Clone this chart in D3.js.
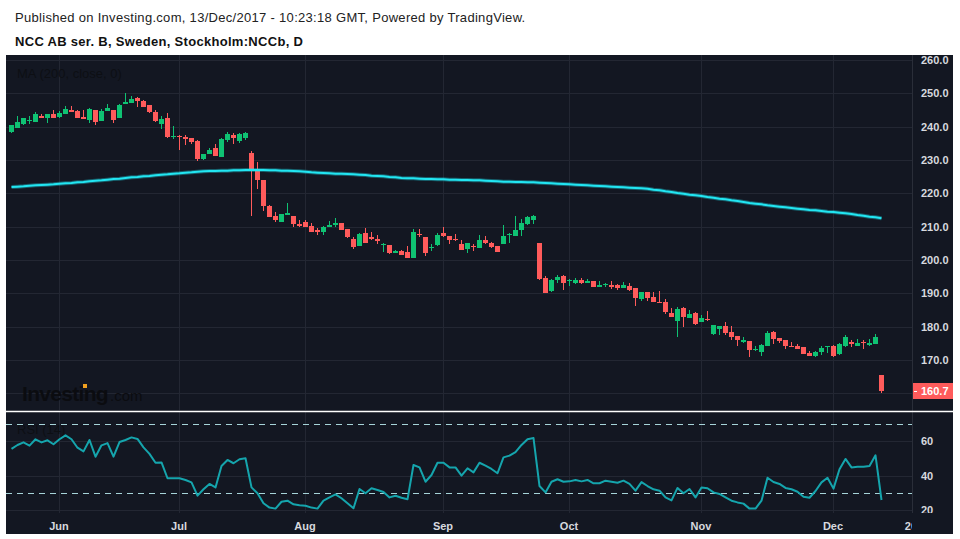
<!DOCTYPE html>
<html><head><meta charset="utf-8">
<script src="https://cdn.jsdelivr.net/npm/d3@7"></script>
<style>body{margin:0;background:#fff}svg{display:block;font-family:"Liberation Sans",Arial,sans-serif}</style>
</head><body><svg id="c" width="960" height="539"></svg>
<script>
// ---------- DATA ----------
const dates = [
"2017-05-19","2017-05-22","2017-05-23","2017-05-24","2017-05-26","2017-05-29","2017-05-30","2017-05-31",
"2017-06-01","2017-06-02","2017-06-05","2017-06-07","2017-06-08","2017-06-09","2017-06-12","2017-06-13","2017-06-14","2017-06-15","2017-06-16","2017-06-19","2017-06-20","2017-06-21","2017-06-22","2017-06-26","2017-06-27","2017-06-28","2017-06-29","2017-06-30",
"2017-07-03","2017-07-04","2017-07-05","2017-07-06","2017-07-07","2017-07-10","2017-07-11","2017-07-12","2017-07-13","2017-07-14","2017-07-17","2017-07-18","2017-07-19","2017-07-20","2017-07-21","2017-07-24","2017-07-25","2017-07-26","2017-07-27","2017-07-28","2017-07-31",
"2017-08-01","2017-08-02","2017-08-03","2017-08-04","2017-08-07","2017-08-08","2017-08-09","2017-08-10","2017-08-11","2017-08-14","2017-08-15","2017-08-16","2017-08-17","2017-08-18","2017-08-21","2017-08-22","2017-08-23","2017-08-24","2017-08-25","2017-08-28","2017-08-29","2017-08-30","2017-08-31",
"2017-09-01","2017-09-04","2017-09-05","2017-09-06","2017-09-07","2017-09-08","2017-09-11","2017-09-12","2017-09-13","2017-09-14","2017-09-15","2017-09-18","2017-09-19","2017-09-20","2017-09-21","2017-09-22","2017-09-25","2017-09-26","2017-09-27","2017-09-28","2017-09-29",
"2017-10-02","2017-10-03","2017-10-04","2017-10-05","2017-10-06","2017-10-09","2017-10-10","2017-10-11","2017-10-12","2017-10-13","2017-10-16","2017-10-17","2017-10-18","2017-10-19","2017-10-20","2017-10-23","2017-10-24","2017-10-25","2017-10-26","2017-10-27","2017-10-30","2017-10-31",
"2017-11-01","2017-11-02","2017-11-03","2017-11-06","2017-11-07","2017-11-08","2017-11-09","2017-11-10","2017-11-13","2017-11-14","2017-11-15","2017-11-16","2017-11-17","2017-11-20","2017-11-21","2017-11-22","2017-11-23","2017-11-24","2017-11-27","2017-11-28","2017-11-29","2017-11-30",
"2017-12-01","2017-12-04","2017-12-05","2017-12-06","2017-12-07","2017-12-08","2017-12-11","2017-12-12","2017-12-13"];
const futureSlots = ["f1","f2","f3","f4","f5","f6","f7","f8"];

const open = [238.5,239.7,240.9,241.8,241.5,243.2,242.7,243.8,
243.0,243.9,245.0,244.7,242.9,242.0,245.0,241.8,244.7,245.0,242.7,246.8,247.1,248.6,247.7,246.5,244.4,240.8,242.6,236.9,
237.2,236.9,236.6,235.7,230.3,231.8,233.6,230.9,236.0,237.5,235.7,236.6,232.2,227.0,224.0,216.3,213.2,211.4,213.6,213.2,210.8,
211.4,210.2,209.0,208.4,209.9,210.5,211.1,209.3,206.3,204.2,208.1,206.9,206.3,204.5,204.5,202.1,202.7,202.4,200.6,207.8,206.9,203.6,204.5,
208.1,207.2,206.3,204.8,203.3,204.2,203.6,206.0,205.1,204.2,204.8,207.5,207.2,209.0,210.8,212.0,205.1,194.6,190.7,194.0,195.2,
193.7,193.1,194.0,193.1,193.7,191.9,192.5,192.5,192.5,191.6,192.2,191.6,188.3,190.4,188.9,187.4,187.4,184.1,181.7,185.6,182.6,184.1,
181.4,182.3,177.8,179.3,180.2,178.4,177.2,175.4,175.7,173.0,172.4,174.2,178.4,176.6,176.0,174.2,174.2,173.9,172.1,171.2,172.4,173.9,
174.2,171.8,174.2,175.4,174.2,175.4,174.5,174.8,165.5];
const high = [240.5,243.2,242.6,243.2,244.4,243.8,243.8,245.0,
244.7,246.2,246.2,245.0,245.0,245.6,245.0,245.3,246.8,245.0,246.8,250.1,249.2,248.9,248.0,246.5,245.0,243.2,244.1,240.2,
237.5,237.5,236.6,236.0,231.8,233.6,234.8,236.6,238.4,238.1,238.1,238.4,232.7,229.4,224.0,216.6,214.4,213.8,217.1,213.2,212.0,
212.0,211.1,209.6,210.2,211.7,212.6,211.1,209.3,206.9,208.1,209.6,208.4,207.5,205.1,204.5,203.0,203.0,204.2,209.3,209.3,206.9,204.8,208.1,
209.9,207.2,207.8,206.0,205.1,204.8,207.5,207.2,205.4,204.2,210.5,208.1,213.2,212.3,213.2,213.5,205.1,195.2,194.3,195.5,195.5,
194.3,194.6,194.6,194.3,193.7,193.7,193.1,193.7,192.8,193.4,193.1,191.6,190.4,190.4,190.4,190.7,188.3,185.6,185.9,185.9,185.0,184.4,
183.5,184.7,180.5,180.2,181.4,180.2,177.2,176.9,175.7,174.2,174.8,178.7,178.7,176.6,176.0,175.4,174.8,173.9,172.7,172.7,174.2,174.2,
174.5,175.1,177.5,176.0,176.3,176.0,176.3,177.8,165.5];
const low = [238.2,239.7,240.6,240.8,241.5,242.7,241.2,242.7,
242.7,243.9,244.5,242.7,242.4,241.2,240.6,241.8,244.7,241.2,242.7,246.8,247.1,245.9,245.9,244.1,241.4,239.3,236.6,236.3,
233.0,234.5,234.8,229.7,230.0,231.8,231.2,230.9,235.4,234.8,235.1,236.0,213.2,221.3,214.7,213.0,211.4,211.4,213.6,209.9,209.9,
209.9,208.4,207.5,207.5,209.9,209.9,209.0,206.6,203.3,204.2,205.1,206.0,204.8,202.4,201.8,202.1,201.5,200.6,200.6,206.9,201.2,202.7,204.2,
206.9,204.8,205.7,203.0,202.1,202.7,203.6,204.8,203.6,202.4,204.8,205.1,207.2,207.2,210.5,210.8,194.0,190.1,190.4,193.1,191.0,
192.2,192.8,192.8,193.1,191.9,191.9,191.9,191.3,191.0,191.6,190.7,186.2,187.7,187.7,187.4,187.1,183.8,182.9,176.9,179.9,182.6,180.5,
181.4,181.7,177.5,177.5,177.5,176.0,174.2,175.1,170.9,172.7,171.2,174.2,174.8,175.1,173.3,173.9,173.3,171.8,171.2,170.9,171.5,172.1,
170.9,171.5,173.9,173.9,174.2,173.3,174.2,174.8,160.1];
const close = [240.5,241.4,242.6,242.0,243.8,242.7,243.8,242.7,
244.1,245.3,244.5,242.7,242.4,245.3,241.4,244.7,245.6,242.0,246.6,247.4,248.3,247.7,245.9,244.4,241.7,242.3,236.9,237.2,
236.9,236.3,235.4,230.3,231.8,233.0,231.2,236.3,237.8,236.6,237.8,238.1,227.0,224.0,216.3,213.0,212.0,213.8,214.1,210.9,210.2,
209.9,208.4,208.4,209.9,210.5,211.1,209.0,206.9,203.9,207.8,205.1,206.3,205.7,204.8,202.1,202.7,201.5,200.6,208.4,207.5,202.1,203.9,207.5,
207.2,206.0,206.0,203.0,205.1,203.9,206.0,205.1,203.9,202.4,207.2,207.8,209.0,211.1,212.9,213.2,194.3,190.1,194.0,194.9,193.1,
194.0,194.0,193.1,193.7,191.9,192.5,192.8,191.9,191.6,192.5,191.0,188.6,190.4,188.6,187.4,187.1,184.4,182.9,185.3,182.9,183.8,180.8,
182.6,182.0,180.5,180.2,178.1,176.9,176.0,176.0,173.0,173.3,174.5,178.1,176.3,175.7,174.2,173.9,173.3,171.8,171.2,172.4,173.6,174.2,
171.2,174.8,176.9,174.8,175.1,175.1,175.1,176.9,160.7];
const ma200 = [221.9,222.0,222.1,222.3,222.4,222.5,222.6,222.7,222.9,223.0,
223.1,223.3,223.4,223.6,223.8,223.9,224.1,224.3,224.4,224.6,224.8,
224.9,225.1,225.2,225.4,225.6,225.7,225.9,226.0,226.2,226.3,226.5,
226.6,226.7,226.7,226.8,226.8,226.9,226.9,227.0,227.0,227.0,
227.0,226.9,226.9,226.8,226.8,226.7,226.6,226.5,226.3,
226.2,226.1,226.0,225.9,225.9,225.8,225.7,225.6,225.5,225.3,225.2,
225.1,224.9,224.8,224.6,224.5,224.5,224.4,224.3,224.3,224.2,
224.2,224.1,224.1,224.0,224.0,223.9,223.9,223.8,223.7,223.6,223.5,
223.5,223.4,223.4,223.3,223.3,223.2,
223.1,223.0,222.9,222.8,222.7,222.6,222.5,222.4,222.3,222.2,
222.1,222.0,221.9,221.8,221.7,221.6,221.5,221.4,
221.1,220.9,220.6,220.4,220.1,219.9,219.6,219.4,219.2,
218.9,218.7,218.4,218.2,217.9,217.7,217.4,217.1,
216.9,216.7,216.4,216.2,216.0,215.8,215.6,215.4,
215.2,215.0,214.9,214.7,214.5,214.4,214.2,214.0,213.8,
213.5,213.3,213.0,212.8,212.5];
const rsi14 = [55.4,57.7,59.2,57.3,61,59.2,60.4,58.1,
61,63.3,61,56.1,54,60.6,50.9,57.5,58.8,50.9,
59.4,60.6,62.1,61.2,56.3,52.5,47.4,47.6,38.4,38.4,
38.4,37.4,36,28.3,32,35.1,33.1,45.5,49,47.1,
49.4,50,33.1,29.7,23.9,21.4,20.8,24.8,25.4,23.3,
22.7,22.5,21.4,20.8,25.4,27.3,29.1,26.8,23.9,21,
32.2,29.7,32.6,31.6,30.4,27.3,28.3,27.1,26.2,46.1,
44.7,36.4,40.3,47.4,47.4,44.7,44.7,39.9,44.2,41.8,
47.4,45.7,43.8,41.3,50.5,51.5,53.6,57.7,61,61.7,
33.9,30.2,36.4,37.8,36.4,36.6,37.4,36.6,37.4,35.5,
35.5,37,36.4,35.8,37,35.1,31.2,36.2,33.9,32,
31.2,27.3,25.6,32.8,29.7,32.2,27.3,33.1,32.6,30.2,
29.3,27.3,25.4,24.4,23.7,20.8,20.8,25.4,38.7,36.2,
35.1,32.8,32,30.6,27.7,27.1,31,36,38.7,32.4,
43.6,49.6,44.7,45.1,45.1,45.5,51.7,25.8];

const priceTicks = [170,180,190,200,210,220,230,240,250,260];
const priceGrid = [160,170,180,190,200,210,220,230,240,250,260];
const rsiTicks = [20,40,60];
const rsiBands = [30,70];
const monthTickDates = ["2017-06-01","2017-07-03","2017-08-01","2017-09-01","2017-10-02","2017-11-01","2017-12-01","f6"];
const monthLabels = ["Jun","Jul","Aug","Sep","Oct","Nov","Dec","2018"];
const lastPrice = 160.7;

const titleLine1 = "Published on Investing.com, 13/Dec/2017 - 10:23:18 GMT, Powered by TradingView.";
const titleLine2 = "NCC AB ser. B, Sweden, Stockholm:NCCb, D";

// ---------- LAYOUT ----------
const P = {left:6, right:953, top:55, bottom:534, plotRight:912, mainBottom:410, sep:411, rsiTop:412, rsiBottom:513};
const BG = "#131722", GRID = "#232733", UP = "#0fc273", DOWN = "#ff5b5b";

const svg = d3.select("#c");
const defs = svg.append("defs");
function clip(id, x0, y0, w, h){
  defs.append("clipPath").attr("id",id).append("rect").attr("x",x0).attr("y",y0).attr("width",w).attr("height",h);
}
clip("clipMain", P.left, P.top, P.plotRight-P.left, P.mainBottom-P.top);
clip("clipRsi", P.left, P.rsiTop, P.plotRight-P.left, P.rsiBottom-P.rsiTop);
clip("clipAxisR", P.plotRight, P.top+1, P.right-P.plotRight, P.mainBottom-P.top);
clip("clipAxisR2", P.plotRight, P.rsiTop, P.right-P.plotRight, P.rsiBottom-P.rsiTop);
clip("clipTime", P.left, P.rsiBottom, P.plotRight-P.left, P.bottom-P.rsiBottom);

// titles
svg.append("text").attr("x",15).attr("y",22).attr("font-size",13).attr("letter-spacing",0.3).attr("fill","#222").text(titleLine1);
svg.append("text").attr("x",15).attr("y",46).attr("font-size",13).attr("font-weight","bold").attr("fill","#111").attr("letter-spacing",0.3).text(titleLine2);

// panel
svg.append("rect").attr("x",P.left).attr("y",P.top).attr("width",P.right-P.left).attr("height",P.bottom-P.top).attr("fill",BG);

// scales
const x = d3.scaleBand().domain(dates.concat(futureSlots))
  .range([8, 8 + 6*(dates.length+futureSlots.length)]).paddingInner(1/6).paddingOuter(1/12);
const cx = d => Math.round(x(d) + x.bandwidth()/2);
const yP = d3.scaleLinear().domain([260,160]).range([60,393.33]);
const yR = d3.scaleLinear().domain([60,20]).range([441,510]);

// grid
const g = svg.append("g").attr("shape-rendering","crispEdges");
const vTicks = monthTickDates.filter(d => dates.includes(d));
g.selectAll(".vg1").data(vTicks).join("line")
  .attr("x1",d=>cx(d)+0.5).attr("x2",d=>cx(d)+0.5).attr("y1",P.top).attr("y2",P.mainBottom).attr("stroke",GRID);
g.selectAll(".vg2").data(vTicks).join("line")
  .attr("x1",d=>cx(d)+0.5).attr("x2",d=>cx(d)+0.5).attr("y1",P.rsiTop).attr("y2",P.rsiBottom).attr("stroke",GRID);
g.selectAll(".hg1").data(priceGrid).join("line")
  .attr("x1",P.left).attr("x2",P.plotRight).attr("y1",d=>Math.round(yP(d))+0.5).attr("y2",d=>Math.round(yP(d))+0.5).attr("stroke",GRID);
g.selectAll(".hg2").data(rsiTicks).join("line")
  .attr("x1",P.left).attr("x2",P.plotRight).attr("y1",d=>Math.round(yR(d))+0.5).attr("y2",d=>Math.round(yR(d))+0.5).attr("stroke",GRID);
g.append("line").attr("x1",P.plotRight+0.5).attr("x2",P.plotRight+0.5).attr("y1",P.top).attr("y2",P.rsiBottom).attr("stroke","#2a2e39");

// watermark
const wm = svg.append("g");
wm.append("text").attr("x",22).attr("y",401).attr("font-size",21).attr("font-weight","bold").attr("letter-spacing",-0.7).attr("fill","#0b0c10").text("Investing");
wm.append("text").attr("x",110).attr("y",401).attr("font-size",15).attr("fill","#0b0c10").text(".com");
wm.append("rect").attr("x",83).attr("y",384).attr("width",4).attr("height",4).attr("fill","#f0a020");

// legend labels
svg.append("text").attr("x",17).attr("y",78).attr("font-size",13).attr("fill","#0d0f14").text("MA (200, close, 0)");
svg.append("text").attr("x",17).attr("y",434).attr("font-size",13).attr("fill","#0d0f14").text("RSI (14)");

// candles
const bars = dates.map((d,i)=>({d, o:open[i], h:high[i], l:low[i], c:close[i]}));
const cg = svg.append("g").attr("clip-path","url(#clipMain)").attr("shape-rendering","crispEdges");
cg.selectAll(".wick").data(bars).join("line")
  .attr("x1",b=>cx(b.d)+0.5).attr("x2",b=>cx(b.d)+0.5)
  .attr("y1",b=>yP(b.h)).attr("y2",b=>yP(b.l))
  .attr("stroke",b=>b.c>=b.o?UP:DOWN);
cg.selectAll(".body").data(bars).join("rect")
  .attr("x",b=>cx(b.d)-2).attr("width",5)
  .attr("y",b=>yP(Math.max(b.o,b.c)))
  .attr("height",b=>Math.max(1, yP(Math.min(b.o,b.c))-yP(Math.max(b.o,b.c))))
  .attr("fill",b=>b.c>=b.o?UP:DOWN);

// MA line
const maLine = d3.line().x((v,i)=>cx(dates[i])+0.5).y(v=>yP(v));
const mg = svg.append("g").attr("clip-path","url(#clipMain)");
mg.append("path").attr("d",maLine(ma200)).attr("fill","none").attr("stroke","#1fe3f0").attr("stroke-opacity",0.35).attr("stroke-width",4);
mg.append("path").attr("d",maLine(ma200)).attr("fill","none").attr("stroke","#22e6f2").attr("stroke-width",2);

// separator
svg.append("line").attr("x1",P.left).attr("x2",P.right).attr("y1",P.sep+0.5).attr("y2",P.sep+0.5).attr("stroke","#ffffff").attr("stroke-width",1.5);

// RSI
const rg = svg.append("g").attr("clip-path","url(#clipRsi)");
rg.selectAll(".band").data(rsiBands).join("line")
  .attr("x1",P.left).attr("x2",P.plotRight).attr("y1",d=>Math.round(yR(d))+0.5).attr("y2",d=>Math.round(yR(d))+0.5)
  .attr("stroke","#a6d4d9").attr("stroke-dasharray","6,5").attr("shape-rendering","crispEdges");
const rLine = d3.line().x((v,i)=>cx(dates[i])+0.5).y(v=>yR(v));
rg.append("path").attr("d",rLine(rsi14)).attr("fill","none").attr("stroke","#15a5ad").attr("stroke-width",2).attr("stroke-linejoin","round");

// axes (outer group clips in page coordinates, inner group translated)
const axisStyle = sel => {
  sel.select(".domain").remove();
  sel.selectAll("text").attr("fill","#d7d9df").attr("font-size",11).attr("font-weight","bold").attr("font-family","'Liberation Sans',Arial,sans-serif");
};
svg.append("g").attr("clip-path","url(#clipAxisR)")
  .append("g").attr("transform",`translate(${P.plotRight},0)`)
  .call(d3.axisRight(yP).tickValues(priceTicks).tickFormat(d3.format(".1f")).tickSize(0).tickPadding(9)).call(axisStyle);
svg.append("g").attr("clip-path","url(#clipAxisR2)")
  .append("g").attr("transform",`translate(${P.plotRight},0)`)
  .call(d3.axisRight(yR).tickValues(rsiTicks).tickSize(0).tickPadding(9)).call(axisStyle);
svg.append("g").attr("clip-path","url(#clipTime)")
  .append("g").attr("transform",`translate(0,${P.rsiBottom})`)
  .call(d3.axisBottom(x).tickValues(monthTickDates).tickFormat((d,i)=>monthLabels[i]).tickSize(0).tickPadding(9)).call(axisStyle);

// last price label
const ly = yP(lastPrice);
svg.append("rect").attr("x",P.plotRight+1).attr("y",Math.round(ly)-8).attr("width",P.right-P.plotRight-1).attr("height",16).attr("fill",DOWN);
svg.append("line").attr("x1",P.plotRight+2).attr("x2",P.plotRight+5).attr("y1",Math.round(ly)+0.5).attr("y2",Math.round(ly)+0.5).attr("stroke","#fff");
svg.append("text").attr("x",P.plotRight+9).attr("y",ly).attr("dy","0.35em").attr("font-size",11).attr("font-weight","bold").attr("fill","#fff").text(d3.format(".1f")(lastPrice));
</script></body></html>
